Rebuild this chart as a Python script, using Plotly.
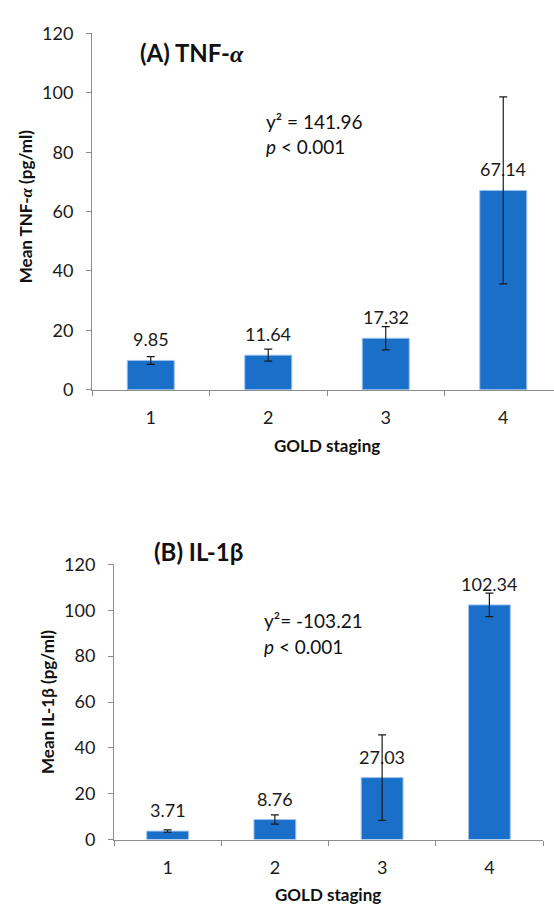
import plotly.graph_objects as go

stages = [1, 2, 3, 4]
stage_labels = ["1", "2", "3", "4"]

tnf_mean = [9.85, 11.64, 17.32, 67.14]
tnf_err = [1.3, 2.0, 3.9, 31.5]

il1b_mean = [3.71, 8.76, 27.03, 102.34]
il1b_err = [0.5, 2.05, 18.6, 5.1]

y_ticks = [0, 20, 40, 60, 80, 100, 120]

BAR = "#1a70c8"
AX = "#8c8c8c"
FONT = "Lato, Open Sans, sans-serif"
W, H = 554, 915

fig = go.Figure()

fig.add_trace(go.Bar(
    x=stages, y=tnf_mean, width=0.4, xaxis="x", yaxis="y",
    marker=dict(color=BAR, line=dict(color="#9cc3ee", width=1)),
    error_y=dict(type="data", array=tnf_err, color="#1a1a1a", thickness=1.2, width=4),
    showlegend=False, hoverinfo="skip"))

fig.add_trace(go.Bar(
    x=stages, y=il1b_mean, width=0.39, xaxis="x2", yaxis="y2",
    marker=dict(color=BAR, line=dict(color="#9cc3ee", width=1)),
    error_y=dict(type="data", array=il1b_err, color="#1a1a1a", thickness=1.2, width=4),
    showlegend=False, hoverinfo="skip"))

def xax(domain, rng, anchor):
    return dict(domain=domain, range=rng, anchor=anchor, tickmode="array",
                tickvals=stages, ticktext=stage_labels, ticks="", showgrid=False,
                zeroline=False, showline=True, linecolor=AX, linewidth=1,
                tickfont=dict(family=FONT, size=18, color="#1a1a1a"),
                ticklabelstandoff=12,
                minor=dict(tickmode="array", tickvals=[0.5, 1.5, 2.5, 3.5, 4.5],
                           ticks="outside", ticklen=5, tickcolor=AX, showgrid=False))

def yax(domain, anchor):
    return dict(domain=domain, range=[0, 120], anchor=anchor, tickmode="array",
                tickvals=y_ticks, ticks="outside", ticklen=5, tickcolor=AX,
                showgrid=False, zeroline=False, showline=True, linecolor=AX,
                linewidth=1, tickfont=dict(family=FONT, size=18, color="#1a1a1a"),
                ticklabelstandoff=9)

xA0 = 92 / W
xB0, xB1 = 114 / W, 543 / W
yA = [1 - 387 / H, 1 - 22 / H]
yB = [1 - 848 / H, 1 - 566 / H]

fig.update_layout(
    width=W, height=H, margin=dict(l=0, r=0, t=0, b=0),
    paper_bgcolor="white", plot_bgcolor="white", bargap=0.6,
    xaxis=xax([xA0, 1.0], [0.5, 0.5 + (W - 92) / 117.5], "y"),
    yaxis=yax(yA, "x"),
    xaxis2=xax([xB0, xB1], [0.5, 4.5], "y2"),
    yaxis2=yax(yB, "x2"),
)

ann = []
# data labels
for s, v in zip(stages, tnf_mean):
    ann.append(dict(x=s, y=v, xref="x", yref="y", text=f"{v:.2f}", showarrow=False,
                    yanchor="bottom", yshift=8, font=dict(family=FONT, size=18, color="#1a1a1a")))
for s, v in zip(stages, il1b_mean):
    ann.append(dict(x=s, y=v, xref="x2", yref="y2", text=f"{v:.2f}", showarrow=False,
                    yanchor="bottom", yshift=8, font=dict(family=FONT, size=18, color="#1a1a1a")))

def pap(x, y, text, size, anchor="left", angle=0):
    return dict(x=x / W, y=1 - y / H, xref="paper", yref="paper", text=text,
                showarrow=False, xanchor=anchor, yanchor="middle", textangle=angle,
                font=dict(family=FONT, size=size, color="#111"))

alpha = "<span style='font-family:Liberation Serif'><i>α</i></span>"
beta = "β"
ann += [
    pap(138, 42, f"<b>(A) TNF-{alpha}</b>", 24),
    pap(152, 553, f"<b>(B) IL-1{beta}</b>", 24),
    pap(264, 112, "y² = 141.96", 19),
    pap(264, 138, "<i>p</i> < 0.001", 19),
    pap(262, 623, "y²= -103.21", 19),
    pap(262, 650, "<i>p</i> < 0.001", 19),
    pap(327, 444, "<b>GOLD staging</b>", 17, anchor="center"),
    pap(328, 904, "<b>GOLD staging</b>", 17, anchor="center"),
    pap(25, 200, f"<b>Mean TNF-{alpha} (pg/ml)</b>", 17, anchor="center", angle=-90),
    pap(47, 707, "<b>Mean IL-1β (pg/ml)</b>", 17, anchor="center", angle=-90),
]
fig.update_layout(annotations=ann)

fig.write_html("out.html")
